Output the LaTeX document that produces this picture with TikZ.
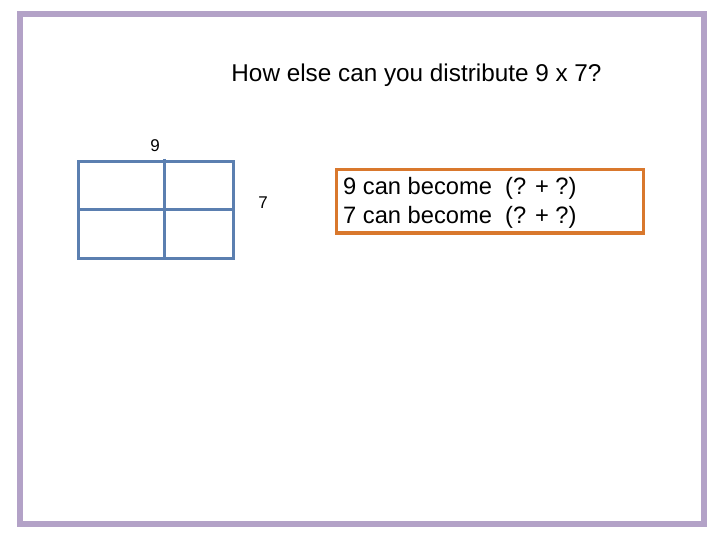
\documentclass[tikz,border=0pt]{standalone}
\usepackage{fontspec}
\setmainfont{Liberation Sans}
\definecolor{frame}{HTML}{B3A2C7}
\definecolor{gridblue}{HTML}{5B7FB0}
\definecolor{boxorange}{HTML}{D9782D}
\begin{document}
\begin{tikzpicture}[x=1pt,y=-1pt,
  gridline/.style={draw=gridblue,line width=3pt},
  lbl/.style={inner sep=0pt,font=\fontsize{17}{19}\selectfont},
  bodytext/.style={font=\fontsize{23.7}{29}\selectfont}]
\useasboundingbox (0,0) rectangle (720,540);
\draw[frame,line width=6pt] (20,14) rectangle (704,524);
\node[inner sep=0pt,font=\fontsize{24.3}{28}\selectfont] (title) at (416.5,75.5) {How else can you distribute 9 x 7?};
% grid
\coordinate (tl) at (78,162);
\coordinate (br) at (233,258);
\coordinate (vt) at (164,159);
\coordinate (vb) at (164,258);
\coordinate (hl) at (78,210);
\coordinate (hr) at (233,210);
\draw[gridline] (tl) rectangle (br);
\draw[gridline] (vt) -- (vb);
\draw[gridline] (hl) -- (hr);
\node[lbl] (nine) at (155,146) {9};
\node[lbl] (seven) at (263,203) {7};
\node[draw=boxorange,line width=3pt,minimum width=307pt,minimum height=63pt,inner sep=0pt] (box) at (489.5,201.5) {};
\node[anchor=west,inner sep=0pt,bodytext] (l1) at (343,188.5) {9 can become \ (? + ?)};
\node[anchor=west,inner sep=0pt,bodytext] (l2) at (343,217.5) {7 can become \ (? + ?)};
\end{tikzpicture}
\end{document}
